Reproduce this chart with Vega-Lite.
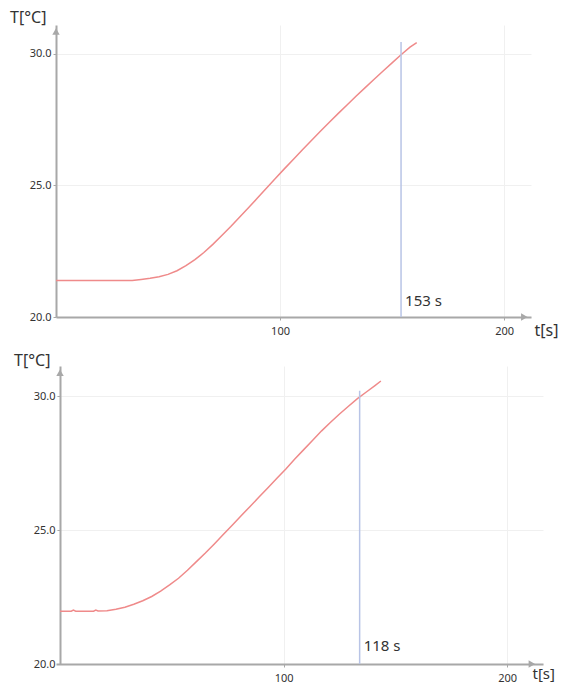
{
  "$schema": "https://vega.github.io/schema/vega-lite/v6.json",
  "background": "white",
  "padding": {"left": 9, "top": 9, "right": 0, "bottom": 0},
  "config": {
    "font": "Noto Sans",
    "view": {"stroke": null},
    "axis": {
      "domainColor": "#a8a8a8",
      "domainWidth": 2,
      "tickColor": "#a8a8a8",
      "tickSize": 3,
      "tickWidth": 1,
      "gridColor": "#f0f0f0",
      "gridWidth": 1,
      "labelColor": "#333333",
      "labelFontSize": 11,
      "labelFont": "Noto Sans",
      "titleFont": "Noto Sans",
      "titleFontWeight": "normal",
      "titleFontSize": 16,
      "titleColor": "#333333"
    }
  },
  "datasets": {
    "top": [
      {"t": 0, "T": 21.39}, {"t": 34, "T": 21.39}, {"t": 38, "T": 21.43}, {"t": 42, "T": 21.47},
      {"t": 46, "T": 21.53}, {"t": 50, "T": 21.62}, {"t": 54, "T": 21.76}, {"t": 58, "T": 21.95},
      {"t": 62, "T": 22.18}, {"t": 66, "T": 22.45}, {"t": 70, "T": 22.76}, {"t": 74, "T": 23.1},
      {"t": 78, "T": 23.44}, {"t": 82, "T": 23.8}, {"t": 86, "T": 24.16}, {"t": 90, "T": 24.53},
      {"t": 94, "T": 24.9}, {"t": 98, "T": 25.27}, {"t": 102, "T": 25.64}, {"t": 106, "T": 26.0},
      {"t": 110, "T": 26.36}, {"t": 114, "T": 26.71}, {"t": 118, "T": 27.06}, {"t": 122, "T": 27.4},
      {"t": 126, "T": 27.74}, {"t": 130, "T": 28.07}, {"t": 134, "T": 28.4}, {"t": 138, "T": 28.72},
      {"t": 142, "T": 29.04}, {"t": 146, "T": 29.35}, {"t": 150, "T": 29.66}, {"t": 154, "T": 29.97},
      {"t": 158, "T": 30.26}, {"t": 161, "T": 30.43}
    ],
    "bottom": [
      {"t": 0, "T": 21.97}, {"t": 5, "T": 21.97}, {"t": 6, "T": 22.01}, {"t": 7, "T": 21.97},
      {"t": 15, "T": 21.97}, {"t": 16, "T": 22.01}, {"t": 17, "T": 21.98}, {"t": 21, "T": 21.99},
      {"t": 25, "T": 22.04}, {"t": 29, "T": 22.12}, {"t": 33, "T": 22.23}, {"t": 37, "T": 22.36},
      {"t": 41, "T": 22.52}, {"t": 45, "T": 22.72}, {"t": 49, "T": 22.95}, {"t": 53, "T": 23.2},
      {"t": 57, "T": 23.5}, {"t": 61, "T": 23.82}, {"t": 65, "T": 24.14}, {"t": 69, "T": 24.48},
      {"t": 73, "T": 24.83}, {"t": 77, "T": 25.18}, {"t": 81, "T": 25.53}, {"t": 85, "T": 25.88},
      {"t": 89, "T": 26.23}, {"t": 93, "T": 26.58}, {"t": 97, "T": 26.93}, {"t": 101, "T": 27.28},
      {"t": 105, "T": 27.65}, {"t": 109, "T": 28.0}, {"t": 113, "T": 28.35}, {"t": 117, "T": 28.7},
      {"t": 121, "T": 29.02}, {"t": 125, "T": 29.33}, {"t": 129, "T": 29.62}, {"t": 133, "T": 29.9},
      {"t": 137, "T": 30.15}, {"t": 141, "T": 30.4}, {"t": 143.5, "T": 30.56}
    ],
    "markTop": [{"t": 154, "T0": 20, "T1": 30.45, "Tl": 20.6, "label": "153 s"}],
    "markBottom": [{"t": 134, "T0": 20, "T1": 30.2, "Tl": 20.67, "label": "118 s"}]
  },
  "bounds": "flush",
  "spacing": 49,
  "vconcat": [
    {
      "width": 475,
      "height": 292,
      "encoding": {
        "x": {"type": "quantitative", "scale": {"domain": [0, 212], "nice": false, "zero": false}},
        "y": {"type": "quantitative", "scale": {"domain": [20, 31.1], "nice": false, "zero": false}}
      },
      "layer": [
        {
          "data": {"name": "top"},
          "mark": {"type": "line", "color": "#ef8a8a", "strokeWidth": 1.5},
          "encoding": {
            "x": {"field": "t", "type": "quantitative",
              "axis": {"values": [100, 200], "grid": true, "labelPadding": 5, "title": "t[s]", "titleAngle": 0, "titleX": 478, "titleY": 13, "titleAlign": "left", "titleBaseline": "middle"}},
            "y": {"field": "T", "type": "quantitative",
              "axis": {"values": [20, 25, 30], "format": ".1f", "grid": true, "labelPadding": 2, "title": "T[°C]", "titleAngle": 0, "titleX": -10, "titleY": -8, "titleAlign": "right", "titleBaseline": "middle"}}
          }
        },
        {
          "data": {"name": "markTop"},
          "mark": {"type": "rule", "color": "#b8c4e6", "strokeWidth": 1.5},
          "encoding": {
            "x": {"field": "t", "type": "quantitative"},
            "y": {"field": "T0", "type": "quantitative"},
            "y2": {"field": "T1"}
          }
        },
        {
          "data": {"name": "markTop"},
          "mark": {"type": "text", "align": "left", "baseline": "middle", "dx": 4, "fontSize": 15, "color": "#333333", "font": "Noto Sans"},
          "encoding": {
            "x": {"field": "t", "type": "quantitative"},
            "y": {"field": "Tl", "type": "quantitative"},
            "text": {"field": "label"}
          }
        },
        {
          "data": {"values": [{}]},
          "mark": {"type": "point", "shape": "triangle-up", "filled": true, "color": "#a8a8a8", "opacity": 1, "size": 55},
          "encoding": {"x": {"datum": 0, "type": "quantitative"}, "y": {"datum": 30.85, "type": "quantitative"}}
        },
        {
          "data": {"values": [{}]},
          "mark": {"type": "point", "shape": "triangle-right", "filled": true, "color": "#a8a8a8", "opacity": 1, "size": 55},
          "encoding": {"x": {"datum": 209, "type": "quantitative"}, "y": {"datum": 20, "type": "quantitative"}}
        }
      ]
    },
    {
      "width": 487,
      "height": 298,
      "encoding": {
        "x": {"type": "quantitative", "scale": {"domain": [-1.8, 216], "nice": false, "zero": false}},
        "y": {"type": "quantitative", "scale": {"domain": [20, 31.12], "nice": false, "zero": false}}
      },
      "layer": [
        {
          "data": {"name": "bottom"},
          "mark": {"type": "line", "color": "#ef8a8a", "strokeWidth": 1.5},
          "encoding": {
            "x": {"field": "t", "type": "quantitative",
              "axis": {"values": [100, 200], "grid": true, "labelPadding": 5, "title": "t[s]", "titleFontSize": 15, "titleAngle": 0, "titleX": 476, "titleY": 9, "titleAlign": "left", "titleBaseline": "middle"}},
            "y": {"field": "T", "type": "quantitative",
              "axis": {"values": [20, 25, 30], "format": ".1f", "grid": true, "offset": -4, "labelPadding": 2, "title": "T[°C]", "titleAngle": 0, "titleX": -10, "titleY": -6, "titleAlign": "right", "titleBaseline": "middle"}}
          }
        },
        {
          "data": {"name": "markBottom"},
          "mark": {"type": "rule", "color": "#b8c4e6", "strokeWidth": 1.5},
          "encoding": {
            "x": {"field": "t", "type": "quantitative"},
            "y": {"field": "T0", "type": "quantitative"},
            "y2": {"field": "T1"}
          }
        },
        {
          "data": {"name": "markBottom"},
          "mark": {"type": "text", "align": "left", "baseline": "middle", "dx": 4, "fontSize": 15, "color": "#333333", "font": "Noto Sans"},
          "encoding": {
            "x": {"field": "t", "type": "quantitative"},
            "y": {"field": "Tl", "type": "quantitative"},
            "text": {"field": "label"}
          }
        },
        {
          "data": {"values": [{}]},
          "mark": {"type": "point", "shape": "triangle-up", "filled": true, "color": "#a8a8a8", "opacity": 1, "size": 55},
          "encoding": {"x": {"datum": 0, "type": "quantitative"}, "y": {"datum": 30.87, "type": "quantitative"}}
        },
        {
          "data": {"values": [{}]},
          "mark": {"type": "point", "shape": "triangle-right", "filled": true, "color": "#a8a8a8", "opacity": 1, "size": 55},
          "encoding": {"x": {"datum": 211, "type": "quantitative"}, "y": {"datum": 20, "type": "quantitative"}}
        }
      ]
    }
  ]
}
